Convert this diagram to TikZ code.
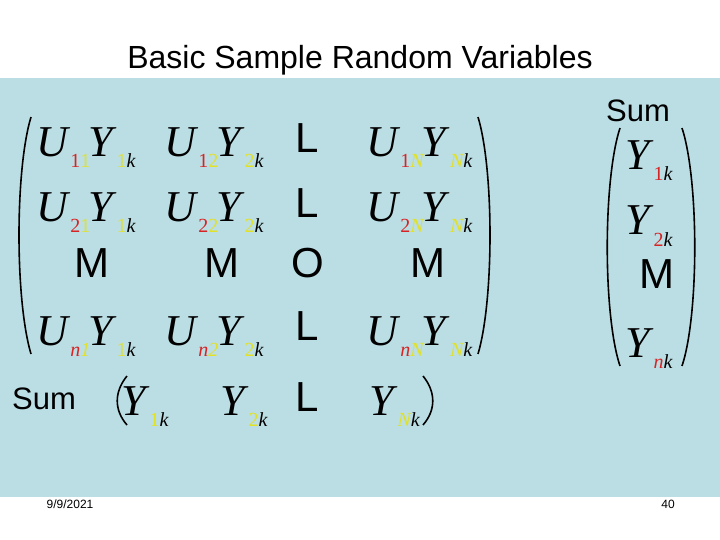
\documentclass[tikz,border=0pt]{standalone}
\usepackage{fontspec}
\setmainfont{Liberation Serif}
\newfontfamily\sansf{Liberation Sans}
\definecolor{bgblue}{RGB}{187,222,228}
\definecolor{sred}{RGB}{215,35,35}
\definecolor{syel}{RGB}{225,225,40}
\newcommand\subs[1]{\raisebox{-11pt}{\fontsize{20}{20}\selectfont #1}}
\newcommand\ent[2]{\textit{U}\subs{\color{sred}#1\color{syel}#2}\kern-2pt\textit{Y}\subs{\color{syel}#2\color{black}\itshape k}}
\newcommand\yv[2]{\textit{Y}\subs{\color{#1}#2\color{black}\itshape k}}
\begin{document}
\begin{tikzpicture}[x=1pt,y=-1pt,
  big/.style={font=\fontsize{44}{44}\selectfont,anchor=base west,inner sep=0},
  sym/.style={font=\sansf\fontsize{42}{42}\selectfont,anchor=center,inner sep=0},
  lab/.style={font=\sansf\fontsize{31}{31}\selectfont,inner sep=0},
  par/.style={line width=1.6pt}]
\useasboundingbox (0,0) rectangle (720,540);
\fill[white] (0,0) rectangle (720,540);
\fill[bgblue] (0,78) rectangle (720,497);
\node[lab,font=\sansf\fontsize{32}{32}\selectfont] (title) at (360,60) {Basic Sample Random Variables};
\node[lab] (sumr) at (638,111) {Sum};
\node[lab] (suml) at (44,399) {Sum};
\node[font=\sansf\fontsize{12}{12}\selectfont] (date) at (70,504) {9/9/2021};
\node[font=\sansf\fontsize{12}{12}\selectfont] (pg) at (668,504) {40};
% matrix
\node[big] (a11) at (36,157) {\ent{1}{1}};
\node[big] (a12) at (164,157) {\ent{1}{2}};
\node[big] (a1n) at (366,157) {\ent{1}{\itshape N}};
\node[big] (a21) at (36,222) {\ent{2}{1}};
\node[big] (a22) at (164,222) {\ent{2}{2}};
\node[big] (a2n) at (366,222) {\ent{2}{\itshape N}};
\node[big] (an1) at (36,345) {\ent{\itshape n}{1}};
\node[big] (an2) at (164,345) {\ent{\itshape n}{2}};
\node[big] (ann) at (366,345) {\ent{\itshape n}{\itshape N}};
\node[sym] (l1) at (307,138) {L};
\node[sym] (l2) at (307,203) {L};
\node[sym] (l4) at (307,326) {L};
\node[sym] (m1) at (92,263) {M};
\node[sym] (m2) at (222,263) {M};
\node[sym] (o3) at (308,263) {O};
\node[sym] (m4) at (428,263) {M};
\draw[par] (31,117) .. controls (15,170) and (15,300) .. (31,354);
\draw[par] (478,117) .. controls (494,170) and (494,300) .. (478,354);
% right vector
\node[big] (y1) at (625,170) {\yv{sred}{1}};
\node[big] (y2) at (625,235) {\yv{sred}{2}};
\node[sym] (ym) at (657,274) {M};
\node[big] (yn) at (625,357) {\yv{sred}{\itshape n}};
\draw[par] (620,128) .. controls (603,180) and (603,315) .. (620,366);
\draw[par] (682,128) .. controls (699,180) and (699,315) .. (682,366);
% sum row
\node[big] (s1) at (121,415) {\yv{syel}{1}};
\node[big] (s2) at (220,415) {\yv{syel}{2}};
\node[sym] (sl) at (307,397) {L};
\node[big] (sn) at (369,415) {\yv{syel}{\itshape N}};
\draw[par] (127,376) .. controls (114,392) and (114,410) .. (127,425);
\draw[par] (423,376) .. controls (436,392) and (436,410) .. (423,425);
\end{tikzpicture}
\end{document}
